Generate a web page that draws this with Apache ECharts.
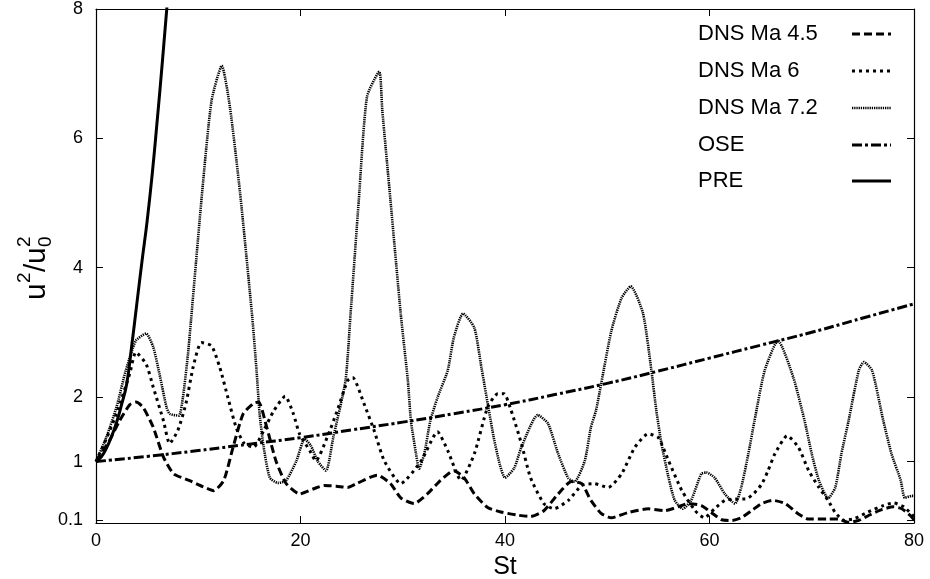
<!DOCTYPE html>
<html>
<head>
<meta charset="utf-8">
<script src="https://cdn.jsdelivr.net/npm/echarts@6/dist/echarts.min.js"></script>
<style>
  html, body { margin: 0; padding: 0; background: #fff; }
  #chart { width: 930px; height: 579px; }
</style>
</head>
<body>
<div id="chart"></div>
<script>
// Axis ticks
const xTicks = [0, 20, 40, 60, 80];
const yTicks = [0.1, 1, 2, 4, 6, 8];

// DNS Ma 4.5
const st45 = [0,1.3,2.3,3.3,3.9,4.6,5.6,6.6,7.6,9.1,10.2,11.5,12.5,13.4,14.4,15.4,15.9,16.7,17.6,18.6,19.9,21.3,22.3,23.5,24.6,25.5,27.5,28.8,29.8,31.1,32.4,33.7,35,36,37,38.3,39.6,41.3,42.5,43.8,45.2,46.5,47.5,48.4,49.4,50.4,52,54,55.6,57.3,57.9,59.2,60.2,61.2,62.2,63.1,64.1,65.1,66.2,67.4,68.7,69.7,71.6,72.6,73.6,74.6,75.6,76.9,78,78.8,79.6,80];
const u45 = [1,1.32,1.63,1.88,1.92,1.84,1.53,1.07,0.81,0.71,0.63,0.55,0.71,1.22,1.74,1.9,1.92,1.53,1.01,0.66,0.5,0.58,0.63,0.62,0.6,0.66,0.79,0.66,0.44,0.35,0.5,0.71,0.86,0.75,0.5,0.29,0.22,0.17,0.15,0.24,0.5,0.69,0.66,0.4,0.2,0.13,0.21,0.27,0.24,0.32,0.35,0.32,0.21,0.1,0.09,0.13,0.24,0.35,0.4,0.35,0.19,0.11,0.11,0.11,0.06,0.09,0.17,0.26,0.3,0.27,0.17,0.1];

// DNS Ma 6
const st6 = [0,1,2,3.3,3.9,4.9,5.6,6.6,7.2,8,8.8,9.5,10.3,11.3,12.1,12.9,13.7,14.5,15.4,16.4,17.4,18.5,19.3,19.9,20.9,21.5,22.6,23.6,24.6,25.1,26.2,27.2,28.2,29.8,31.8,33.4,34.4,35.7,37,38.3,39.3,39.9,40.6,41.6,42.5,43.8,44.8,46.2,47.5,48.7,50.1,51.4,52.7,54,55,56,57.3,58.6,59.5,60.5,61.5,62.5,63.5,64.3,65.1,65.7,66.4,67.6,68.7,69.7,70.7,71.6,72.3,73.2,74.2,75.5,77,78,79,80];
const u6 = [1,1.35,1.74,2.36,2.69,2.51,2.15,1.63,1.28,1.48,1.9,2.46,2.84,2.79,2.46,1.99,1.53,1.28,1.22,1.48,1.79,2.01,1.74,1.43,1.17,1.01,1.37,1.79,2.25,2.3,1.9,1.48,1.01,0.66,1.01,1.46,1.17,0.71,1.12,1.84,2.05,2.05,1.79,1.28,0.75,0.35,0.27,0.4,0.63,0.66,0.6,0.81,1.22,1.43,1.37,1.01,0.55,0.24,0.13,0.27,0.4,0.42,0.42,0.5,0.65,0.85,1.12,1.4,1.22,0.86,0.6,0.4,0.21,0.09,0.12,0.22,0.32,0.36,0.3,0.15];

// DNS Ma 7.2
const st72 = [0,1,2,2.9,3.9,4.9,5.6,6.2,6.9,7.2,8.1,8.5,9,9.3,10.4,11.3,12.3,13.1,14.1,15.3,15.7,16,16.4,17,17.8,18.6,19.6,20.4,21,21.7,22.5,23.2,24.4,24.9,25.7,26.5,27.7,28,28.8,29.8,30.5,30.8,31.3,31.6,32.1,32.7,33.4,34.4,35,35.9,37,37.7,38.9,39.5,40,40.9,41.6,43.2,44.2,45.2,46.2,46.8,47.8,48.4,48.9,49.4,50.4,51.4,52.3,53.5,54.3,54.8,55.3,56,56.6,57.4,58.2,59.2,59.7,60.5,61.5,62.5,63.1,63.8,64.4,65.4,66.7,68.2,69.3,70,70.7,71.6,72.3,72.9,73.6,74.6,75.1,75.9,77,77.8,78.7,79.1,79.8,80];
const u72 = [1,1.37,1.84,2.4,2.87,2.98,2.77,2.36,1.84,1.74,1.71,1.99,2.67,3.2,5.2,6.58,7.12,6.48,5.14,3.2,2.41,1.74,1.22,0.75,0.67,0.71,1.01,1.35,1.25,1.0,0.86,1.37,2.25,3.29,5.04,6.64,7.03,6.43,5.04,3.29,2.25,1.63,1.12,0.89,1.12,1.63,1.99,2.41,2.92,3.29,3.07,2.45,1.37,0.95,0.75,0.9,1.22,1.72,1.59,1.12,0.74,0.69,1.01,1.53,1.79,2.2,3.02,3.53,3.71,3.29,2.43,1.79,1.28,0.75,0.4,0.27,0.4,0.81,0.83,0.75,0.5,0.35,0.6,1.12,1.63,2.41,2.87,2.3,1.63,1.12,0.71,0.43,0.6,1.12,1.63,2.41,2.54,2.41,1.63,1.12,0.71,0.44,0.47,0.47];

// OSE
const stOse = [0,5,10,15,20,25,30,35,40,45,50,55,60,65,70,75,80];
const uOse = [1,1.08,1.17,1.27,1.37,1.49,1.61,1.74,1.88,2.04,2.21,2.4,2.6,2.8,3.0,3.22,3.44];

// PRE
const stPre = [0,0.5,1,1.5,2,2.5,3,3.5,4,4.5,5,5.5,6,6.5,7];
const uPre = [1,1.07,1.2,1.38,1.6,1.88,2.2,2.8,3.45,4.1,4.72,5.45,6.3,7.2,8.15];

const FONT = '"Liberation Sans", Arial, Helvetica, sans-serif';

const zip = (xs, ys) => xs.map((x, i) => [x, ys[i]]);

const styles = {
  'DNS Ma 4.5': { width: 3, dash: [8, 4] },
  'DNS Ma 6':   { width: 3, dash: [3, 4] },
  'DNS Ma 7.2': { width: 2.6, dash: [1.3, 0.9] },
  'OSE':        { width: 3, dash: [10, 3, 3, 3] },
  'PRE':        { width: 3, dash: 'solid' }
};

function lineSeries(name, xs, ys, smooth) {
  const s = styles[name];
  return {
    name: name,
    type: 'line',
    data: zip(xs, ys),
    showSymbol: false,
    symbol: 'none',
    smooth: smooth,
    clip: true,
    lineStyle: { color: '#000', width: s.width, type: s.dash, cap: 'butt', join: 'round' },
    emphasis: { disabled: true }
  };
}

const series = [
  lineSeries('DNS Ma 7.2', st72, u72, 0.2),
  lineSeries('DNS Ma 6', st6, u6, 0.2),
  lineSeries('DNS Ma 4.5', st45, u45, 0.2),
  lineSeries('OSE', stOse, uOse, true),
  lineSeries('PRE', stPre, uPre, true)
];

// Key entries (text + line sample), top-right corner
const keyNames = ['DNS Ma 4.5', 'DNS Ma 6', 'DNS Ma 7.2', 'OSE', 'PRE'];
const keyRows = [34, 71, 108, 145, 181];
const keyGraphics = [];
keyNames.forEach((n, i) => {
  const s = styles[n];
  keyGraphics.push({
    type: 'text', x: 698, y: keyRows[i],
    style: { text: n, font: '22px ' + FONT, fill: '#000', align: 'left', verticalAlign: 'middle' }
  });
  keyGraphics.push({
    type: 'line',
    shape: { x1: 852, y1: keyRows[i], x2: 891, y2: keyRows[i] },
    style: { stroke: '#000', lineWidth: s.width, lineDash: s.dash === 'solid' ? null : s.dash, lineCap: 'butt' }
  });
});

// Rotated y-axis title: u^2/u_0^2
const yTitle = {
  type: 'group',
  x: 37, y: 268,
  rotation: Math.PI / 2,
  children: [
    { type: 'text', x: -32, y: 0, style: { text: 'u', font: '30px ' + FONT, fill: '#000', align: 'left', verticalAlign: 'middle' } },
    { type: 'text', x: -15, y: -12, style: { text: '2', font: '19px ' + FONT, fill: '#000', align: 'left', verticalAlign: 'middle' } },
    { type: 'text', x: -4, y: 0, style: { text: '/', font: '30px ' + FONT, fill: '#000', align: 'left', verticalAlign: 'middle' } },
    { type: 'text', x: 4, y: 0, style: { text: 'u', font: '30px ' + FONT, fill: '#000', align: 'left', verticalAlign: 'middle' } },
    { type: 'text', x: 21, y: -12, style: { text: '2', font: '19px ' + FONT, fill: '#000', align: 'left', verticalAlign: 'middle' } },
    { type: 'text', x: 21, y: 9, style: { text: '0', font: '19px ' + FONT, fill: '#000', align: 'left', verticalAlign: 'middle' } }
  ]
};

const axisCommon = {
  type: 'value',
  axisLine: { show: true, onZero: false, lineStyle: { color: '#000', width: 1.2 } },
  splitLine: { show: false },
  axisTick: { show: true, inside: true, length: 7, lineStyle: { color: '#000', width: 1 } }
};

const chart = echarts.init(document.getElementById('chart'), null, { renderer: 'canvas' });
chart.setOption({
  animation: false,
  backgroundColor: '#fff',
  grid: { left: 96, right: 16, top: 9, bottom: 56, containLabel: false, outerBoundsMode: 'none' },
  xAxis: [
    Object.assign({}, axisCommon, {
      position: 'bottom', min: 0, max: 80, interval: 20,
      axisLabel: { show: true, color: '#000', fontSize: 18, fontFamily: FONT, margin: 9 },
      name: 'St', nameLocation: 'middle', nameGap: 26,
      nameTextStyle: { color: '#000', fontSize: 25, fontFamily: FONT }
    }),
    Object.assign({}, axisCommon, {
      position: 'top', min: 0, max: 80, interval: 20,
      axisLabel: { show: false }
    })
  ],
  yAxis: [
    Object.assign({}, axisCommon, {
      position: 'left', min: 0.05, max: 8,
      axisLabel: { show: true, color: '#000', fontSize: 18, fontFamily: FONT, margin: 13, customValues: yTicks },
      axisTick: { show: true, inside: true, length: 7, lineStyle: { color: '#000', width: 1 }, customValues: yTicks }
    }),
    Object.assign({}, axisCommon, {
      position: 'right', min: 0.05, max: 8,
      axisLabel: { show: false, customValues: yTicks },
      axisTick: { show: true, inside: true, length: 7, lineStyle: { color: '#000', width: 1 }, customValues: yTicks }
    })
  ],
  series: series,
  graphic: { elements: keyGraphics.concat([yTitle]) }
});
</script>
</body>
</html>
